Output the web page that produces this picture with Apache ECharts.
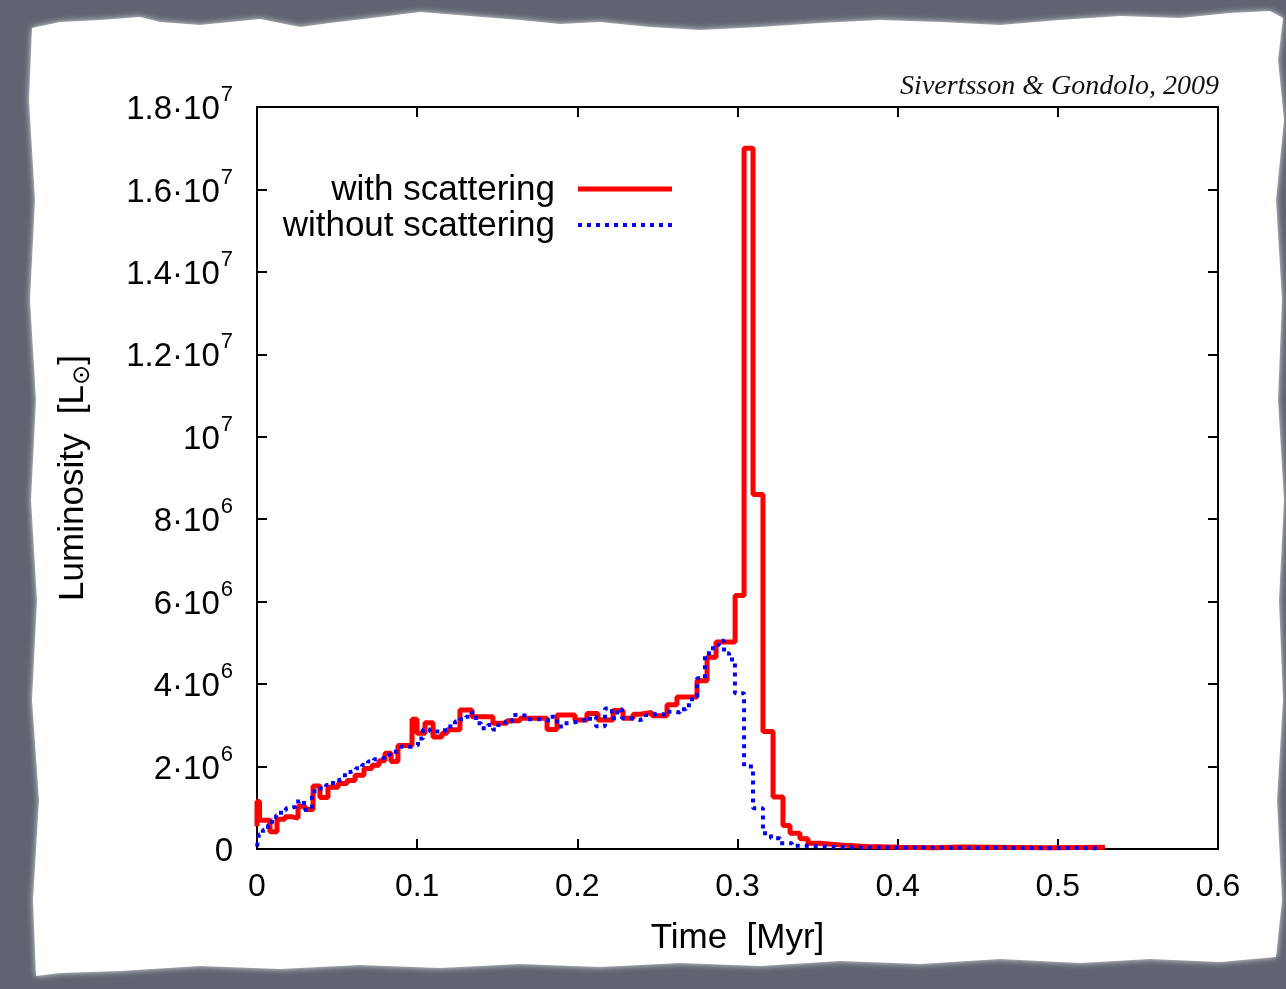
<!DOCTYPE html>
<html>

<head>
    <meta http-equiv="Content-Type" content="text/html; charset=utf-8" />
    <title>Luminosity vs time</title>
    <style type="text/css">
    body,
    html {
        width: 100%;
        height: 100%;
        margin: 0;
        overflow: hidden;
        background-color: #5f6470;
    }

    #container {
        width: 1286px;
        height: 989px;
    }
    </style>
</head>

<body>
    <div id="container"></div>
</body>
<script src="https://cdn.jsdelivr.net/npm/echarts@6/dist/echarts.min.js"></script>
<script>
// time in Myr (left edge of each step), luminosity in units of 10^6 L_sun
var redTime = [0, 0, 0.0016, 0.0081, 0.0125, 0.0175, 0.0219, 0.0256, 0.0300, 0.0350,
    0.0393, 0.0443, 0.0506, 0.0562, 0.0612, 0.0668, 0.0718, 0.0762, 0.0799, 0.0837,
    0.0880, 0.0968, 0.0999, 0.1049, 0.1099, 0.1155, 0.1186, 0.1267, 0.1342, 0.1473,
    0.1561, 0.1642, 0.1811, 0.1873, 0.1985, 0.2060, 0.2129, 0.2223, 0.2285, 0.2348,
    0.2391, 0.2466, 0.2560, 0.2622, 0.2747, 0.2810, 0.2866, 0.2985, 0.3041, 0.3097,
    0.3159, 0.3222, 0.3284, 0.3328, 0.3390, 0.3440, 0.3515, 0.3640, 0.3808, 0.4015,
    0.4233, 0.4389, 0.4951, 0.5294];
var redLum = [0.55, 1.15, 0.70, 0.42, 0.72, 0.78, 0.75, 1.04, 0.96, 1.53,
    1.25, 1.50, 1.59, 1.66, 1.79, 1.95, 2.03, 2.14, 2.32, 2.12,
    2.51, 3.15, 2.81, 3.06, 2.72, 2.81, 2.89, 3.37, 3.21, 3.05,
    3.11, 3.17, 2.90, 3.25, 3.13, 3.29, 3.13, 3.36, 3.17, 3.27,
    3.31, 3.23, 3.50, 3.69, 4.08, 4.65, 5.02, 6.15, 17.0, 8.6,
    2.85, 1.26, 0.57, 0.38, 0.25, 0.14, 0.10, 0.06, 0.04, 0.03,
    0.05, 0.03, 0.04, 0.04];

var blueTime = [0, 0.0012, 0.0037, 0.0069, 0.0094, 0.0119, 0.0150, 0.0181, 0.0212, 0.0243,
    0.0268, 0.0293, 0.0343, 0.0381, 0.0431, 0.0475, 0.0512, 0.0549, 0.0587, 0.0618,
    0.0656, 0.0693, 0.0730, 0.0768, 0.0805, 0.0830, 0.0868, 0.0899, 0.0968, 0.1005,
    0.1036, 0.1080, 0.1174, 0.1236, 0.1267, 0.1305, 0.1342, 0.1367, 0.1399, 0.1442,
    0.1473, 0.1505, 0.1548, 0.1592, 0.1642, 0.1686, 0.1786, 0.1829, 0.1873, 0.1910,
    0.1954, 0.2004, 0.2048, 0.2079, 0.2117, 0.2173, 0.2216, 0.2248, 0.2279, 0.2341,
    0.2391, 0.2429, 0.2466, 0.2504, 0.2560, 0.2610, 0.2641, 0.2678, 0.2716, 0.2747,
    0.2797, 0.2847, 0.2884, 0.2916, 0.2947, 0.2984, 0.3041, 0.3097, 0.3159, 0.3209,
    0.3265, 0.3340, 0.3390, 0.3700, 0.5263];
var blueLum = [0.06, 0.35, 0.46, 0.58, 0.70, 0.82, 0.94, 0.99, 1.03, 1.15,
    1.19, 0.95, 1.40, 1.47, 1.55, 1.67, 1.71, 1.87, 1.90, 1.96,
    2.04, 2.12, 2.18, 2.22, 2.28, 2.36, 2.40, 2.48, 2.52, 2.68,
    2.90, 2.85, 2.97, 3.09, 3.15, 3.21, 3.31, 3.05, 2.93, 3.01,
    2.90, 3.01, 3.09, 3.25, 3.23, 3.15, 3.11, 3.21, 2.97, 3.05,
    3.09, 3.13, 3.09, 3.21, 2.98, 3.41, 3.17, 3.39, 3.17, 3.13,
    3.17, 3.25, 3.29, 3.25, 3.33, 3.31, 3.39, 3.49, 3.69, 4.14,
    4.75, 4.95, 5.05, 4.75, 4.60, 3.78, 2.00, 0.99, 0.38, 0.26,
    0.14, 0.08, 0.04, 0.02, 0.02];

var seriesNames = ['with scattering', 'without scattering'];
var creditText = 'Sivertsson & Gondolo, 2009';

var FONT = 'Liberation Sans, Arial, Helvetica, sans-serif';

function pairs(xs, ys) {
    return xs.map(function(x, i) { return [x, ys[i]]; });
}

// 18 -> "1.8·10^7", 8 -> "8·10^6"
function lumLabel(v) {
    if (v === 0) return '{m|0}';
    var exp = v >= 10 ? 7 : 6;
    var m = Math.round((exp === 7 ? v / 10 : v) * 10) / 10;
    if (m === 1) return '{m|10}{s|' + exp + '}';
    return '{m|' + m + '·10}{s|' + exp + '}';
}

var tick = { show: true, inside: true, length: 10, lineStyle: { color: '#000', width: 2 } };
var line = { show: true, onZero: false, lineStyle: { color: '#000', width: 2 } };

var chart = echarts.init(document.getElementById('container'));

var option = {
    animation: false,
    backgroundColor: '#5f6470',
    grid: { left: 257, top: 107, width: 961, height: 742 },
    graphic: [{
        type: 'polygon',
        z: -10,
        shape: {
            points: [
                [32, 28], [60, 22], [100, 20], [140, 17], [160, 22], [200, 25], [230, 22], [260, 19],
                [300, 27], [330, 23], [380, 17], [420, 12], [470, 16], [520, 20], [560, 24], [600, 22],
                [650, 27], [700, 30], [760, 27], [820, 23], [880, 20], [940, 22], [1000, 25], [1060, 20],
                [1120, 16], [1180, 18], [1230, 13], [1270, 11], [1283, 18],
                [1278, 60], [1284, 120], [1276, 200], [1282, 300], [1278, 400], [1284, 500], [1279, 600],
                [1283, 700], [1277, 800], [1282, 900], [1276, 957],
                [1220, 962], [1150, 959], [1080, 963], [1000, 959], [920, 964], [840, 961], [760, 966],
                [680, 963], [600, 967], [520, 964], [440, 968], [360, 965], [280, 969], [200, 966],
                [120, 971], [60, 973], [36, 976],
                [33, 900], [39, 800], [32, 700], [37, 600], [31, 500], [36, 400], [30, 300], [35, 200], [29, 100]
            ]
        },
        style: { fill: '#ffffff', shadowBlur: 6, shadowColor: 'rgba(255,255,255,0.8)' }
    }, {
        type: 'text',
        x: 1219,
        y: 87,
        style: {
            text: creditText,
            align: 'right',
            verticalAlign: 'middle',
            font: 'italic 28px "Liberation Serif", "Times New Roman", serif',
            fill: '#111'
        }
    }, {
        type: 'text',
        x: 555,
        y: 190,
        style: { text: seriesNames[0], align: 'right', verticalAlign: 'middle', font: '35px ' + FONT, fill: '#000' }
    }, {
        type: 'text',
        x: 555,
        y: 226,
        style: { text: seriesNames[1], align: 'right', verticalAlign: 'middle', font: '35px ' + FONT, fill: '#000' }
    }, {
        type: 'line',
        shape: { x1: 578, y1: 189, x2: 672, y2: 189 },
        style: { stroke: '#ff0000', lineWidth: 5 }
    }, {
        type: 'line',
        shape: { x1: 578, y1: 225, x2: 672, y2: 225 },
        style: { stroke: '#0000ff', lineWidth: 4, lineDash: [4, 5] }
    }],
    xAxis: [{
        type: 'value',
        position: 'bottom',
        min: 0,
        max: 0.6,
        interval: 0.1,
        axisLine: line,
        axisTick: tick,
        splitLine: { show: false },
        axisLabel: { color: '#000', fontSize: 32, fontFamily: FONT, margin: 22 },
        name: 'Time  [Myr]',
        nameLocation: 'middle',
        nameGap: 72,
        nameTextStyle: { color: '#000', fontSize: 35, fontFamily: FONT }
    }, {
        type: 'value',
        position: 'top',
        min: 0,
        max: 0.6,
        interval: 0.1,
        axisLine: line,
        axisTick: tick,
        splitLine: { show: false },
        axisLabel: { show: false }
    }],
    yAxis: [{
        type: 'value',
        position: 'left',
        min: 0,
        max: 18,
        interval: 2,
        axisLine: line,
        axisTick: tick,
        splitLine: { show: false },
        axisLabel: {
            margin: 24,
            formatter: lumLabel,
            rich: {
                m: { color: '#000', fontSize: 33, fontFamily: FONT, lineHeight: 46, padding: [6, 0, 0, 0] },
                s: { color: '#000', fontSize: 22, fontFamily: FONT, lineHeight: 20, verticalAlign: 'top', padding: [0, 0, 0, 1] }
            }
        },
        name: '{n|Luminosity  [L}{o|⊙}{n|]}',
        nameLocation: 'middle',
        nameGap: 162,
        nameRotate: 90,
        nameTextStyle: {
            rich: {
                n: { color: '#000', fontSize: 35, fontFamily: FONT, lineHeight: 44 },
                o: { color: '#000', fontSize: 24, fontFamily: 'DejaVu Sans', lineHeight: 24, verticalAlign: 'bottom' }
            }
        }
    }, {
        type: 'value',
        position: 'right',
        min: 0,
        max: 18,
        interval: 2,
        axisLine: line,
        axisTick: tick,
        splitLine: { show: false },
        axisLabel: { show: false }
    }],
    series: [{
        name: seriesNames[0],
        type: 'line',
        step: 'end',
        showSymbol: false,
        data: pairs(redTime, redLum),
        lineStyle: { color: '#ff0000', width: 5 },
        z: 3
    }, {
        name: seriesNames[1],
        type: 'line',
        step: 'end',
        showSymbol: false,
        data: pairs(blueTime, blueLum),
        lineStyle: { color: '#0000ff', width: 4, type: [4, 5] },
        z: 4
    }]
};

chart.setOption(option);
</script>

</html>
